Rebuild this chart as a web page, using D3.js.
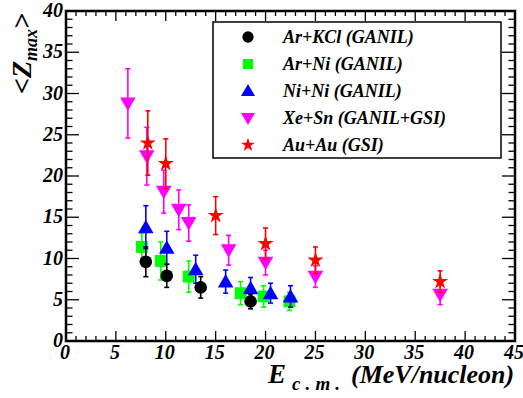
<!DOCTYPE html>
<html>
<head>
<meta charset="utf-8">
<script src="https://cdn.jsdelivr.net/npm/d3@7"></script>
<style>
  html, body { margin: 0; padding: 0; background: #fff; }
</style>
</head>
<body>
<svg id="chart" width="523" height="398"></svg>
<script>
// Mean largest fragment charge vs. centre-of-mass energy
const arKClE   = [8.0, 10.1, 13.5, 18.5];
const arKClZ   = [9.6, 7.9, 6.5, 4.8];
const arKClErr = [1.8, 1.4, 1.3, 0.9];

const arNiE   = [7.6, 9.5, 12.3, 17.5, 19.8, 22.4];
const arNiZ   = [11.4, 9.7, 7.8, 5.8, 5.4, 4.8];
const arNiErr = [1.7, 2.3, 1.9, 1.4, 1.3, 1.1];

const niNiE   = [8.0, 10.1, 13.0, 16.0, 18.5, 20.5, 22.5];
const niNiZ   = [13.8, 11.3, 8.7, 7.2, 6.4, 5.8, 5.4];
const niNiErr = [2.6, 2.0, 1.7, 1.4, 1.3, 1.2, 1.3];

const xeSnE   = [6.2, 8.1, 9.8, 11.3, 12.3, 16.3, 20.0, 25.0, 37.5];
const xeSnZ   = [28.8, 22.4, 18.1, 15.9, 14.3, 11.0, 9.5, 7.8, 5.6];
const xeSnErr = [4.2, 3.5, 2.6, 2.4, 2.2, 1.8, 1.5, 1.3, 1.2];

const auAuE   = [8.2, 10.0, 15.0, 20.0, 25.0, 37.5];
const auAuZ   = [24.0, 21.5, 15.2, 11.8, 9.8, 7.2];
const auAuErr = [3.9, 3.0, 2.3, 1.9, 1.6, 1.3];

const xTickValues = [0, 5, 10, 15, 20, 25, 30, 35, 40, 45];
const yTickValues = [0, 5, 10, 15, 20, 25, 30, 35, 40];

const seriesLabels = ["Ar+KCl (GANIL)", "Ar+Ni (GANIL)", "Ni+Ni (GANIL)", "Xe+Sn (GANIL+GSI)", "Au+Au (GSI)"];

const zip = (e, z, err) => e.map((v, i) => ({ e: v, z: z[i], err: err[i] }));
const series = [
  { name: seriesLabels[0], color: "#000000", shape: d3.symbolCircle,   size: 125, rot: 0,   pts: zip(arKClE, arKClZ, arKClErr) },
  { name: seriesLabels[1], color: "#00ff00", shape: d3.symbolSquare,   size: 140, rot: 0,   pts: zip(arNiE, arNiZ, arNiErr) },
  { name: seriesLabels[2], color: "#0000ff", shape: d3.symbolTriangle, size: 105, rot: 0,   pts: zip(niNiE, niNiZ, niNiErr) },
  { name: seriesLabels[3], color: "#ff00ff", shape: d3.symbolTriangle, size: 105, rot: 180, pts: zip(xeSnE, xeSnZ, xeSnErr) },
  { name: seriesLabels[4], color: "#ff0000", shape: d3.symbolStar,     size: 80,  rot: 0,   pts: zip(auAuE, auAuZ, auAuErr) }
];
// Drawing order: heavy systems first, light systems on top
const drawOrder = [3, 4, 1, 2, 0];

const FONT = '"Times New Roman", Tinos, "Liberation Serif"';
const styleText = sel => sel.attr("font-family", FONT).attr("font-weight", "bold").attr("font-style", "italic");

const svg = d3.select("#chart");
const L = 66, R = 515, T = 11, B = 341;
const x = d3.scaleLinear().domain([0, 45]).range([L, R]);
const y = d3.scaleLinear().domain([0, 40]).range([B, T]);

// Tick marks on all four sides (minor every unit)
const ticks = svg.append("g").attr("stroke", "#000").attr("stroke-width", 1.3);
d3.range(0, 46).forEach(v => {
  const len = v % 5 === 0 ? 10 : 5;
  const px = x(v);
  ticks.append("line").attr("x1", px).attr("x2", px).attr("y1", B).attr("y2", B - len);
  ticks.append("line").attr("x1", px).attr("x2", px).attr("y1", T).attr("y2", T + len);
});
d3.range(0, 41).forEach(v => {
  const len = v % 5 === 0 ? 13 : 6.5;
  const py = y(v);
  ticks.append("line").attr("x1", L).attr("x2", L + len).attr("y1", py).attr("y2", py);
  ticks.append("line").attr("x1", R).attr("x2", R - len).attr("y1", py).attr("y2", py);
});

// Frame
svg.append("rect").attr("x", L).attr("y", T).attr("width", R - L).attr("height", B - T)
  .attr("fill", "none").attr("stroke", "#000").attr("stroke-width", 2.5);

// Tick labels
svg.append("g").selectAll("text").data(xTickValues).join("text")
  .call(styleText)
  .attr("x", d => x(d) - 1).attr("y", 359).attr("text-anchor", "middle")
  .attr("font-size", 20).text(d => d);
svg.append("g").selectAll("text").data(yTickValues).join("text")
  .call(styleText)
  .attr("x", 63).attr("y", d => y(d) + 6).attr("text-anchor", "end")
  .attr("font-size", 20).text(d => d);

// Axis titles
const xt = svg.append("text").call(styleText)
  .attr("x", 268).attr("y", 383).attr("font-size", 27);
xt.append("tspan").text("E");
xt.append("tspan").attr("x", 292).attr("font-size", 19).attr("dy", 7)
  .attr("textLength", 48).attr("lengthAdjust", "spacing").text("c.m.");
xt.append("tspan").attr("x", 351).attr("dy", -7).attr("font-size", 26).text("(MeV/nucleon)");

const yt = svg.append("text").call(styleText)
  .attr("transform", "translate(31,13) rotate(-90)")
  .attr("text-anchor", "end").attr("font-size", 28);
yt.append("tspan").text("<Z");
yt.append("tspan").attr("font-size", 18).attr("dy", 6).text("max");
yt.append("tspan").attr("dy", -6).text(">");

// Data: error bars and markers
const plot = svg.append("g");
drawOrder.forEach(si => {
  const s = series[si];
  const g = plot.append("g");
  const eb = g.append("g").attr("stroke", s.color).attr("stroke-width", 1.6);
  s.pts.forEach(p => {
    const px = x(p.e), y1 = y(p.z + p.err), y2 = y(p.z - p.err);
    eb.append("line").attr("x1", px).attr("x2", px).attr("y1", y1).attr("y2", y2);
    eb.append("line").attr("x1", px - 2.5).attr("x2", px + 2.5).attr("y1", y1).attr("y2", y1);
    eb.append("line").attr("x1", px - 2.5).attr("x2", px + 2.5).attr("y1", y2).attr("y2", y2);
  });
  const sym = d3.symbol().type(s.shape).size(s.size);
  g.selectAll("path.m").data(s.pts).join("path").attr("class", "m")
    .attr("d", sym)
    .attr("transform", d => `translate(${x(d.e)},${y(d.z) + (s.shape === d3.symbolTriangle ? (s.rot ? -1.5 : 1.5) : 0)}) rotate(${s.rot})`)
    .attr("fill", s.color);
});

// Legend
const lg = svg.append("g");
lg.append("rect").attr("x", 213).attr("y", 22).attr("width", 288).attr("height", 136)
  .attr("fill", "#fff").attr("stroke", "#000").attr("stroke-width", 1.5);
series.forEach((s, i) => {
  const cy = 37 + i * 27;
  const sz = s.shape === d3.symbolStar ? 60 : s.shape === d3.symbolTriangle ? 85 : 100;
  lg.append("path").attr("d", d3.symbol().type(s.shape).size(sz)())
    .attr("transform", `translate(248,${cy + (s.shape === d3.symbolTriangle ? (s.rot ? -1 : 1) : 0)}) rotate(${s.rot})`)
    .attr("fill", s.color);
  lg.append("text").call(styleText)
    .attr("x", 283).attr("y", cy + 6).attr("font-size", 18).text(s.name);
});
</script>
</body>
</html>
